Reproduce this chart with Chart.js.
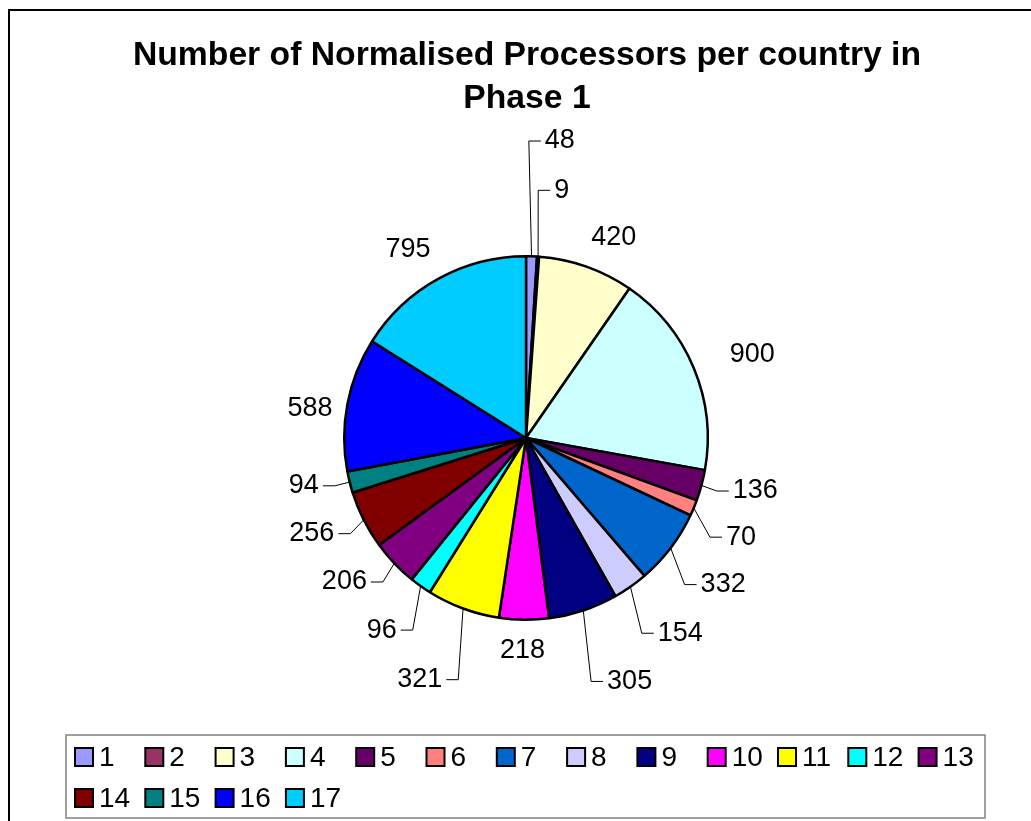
<!DOCTYPE html>
<html>
<head>
<meta charset="utf-8">
<script src="https://cdn.jsdelivr.net/npm/chart.js@4.4.1/dist/chart.umd.min.js"></script>
<style>
  body { margin: 0; background: #fff; }
  canvas { display: block; }
</style>
</head>
<body>
<canvas id="pieChart" width="1031" height="821"></canvas>
<script>
// Country numbers and their processor counts (clockwise from the top)
const countries = ["1", "2", "3", "4", "5", "6", "7", "8", "9", "10", "11", "12", "13", "14", "15", "16", "17"];
const processors = [48, 9, 420, 900, 136, 70, 332, 154, 305, 218, 321, 96, 206, 256, 94, 588, 795];
const sliceColours = ["#9999FF", "#993366", "#FFFFCC", "#CCFFFF", "#660066", "#FF8080", "#0066CC", "#CCCCFF",
    "#000080", "#FF00FF", "#FFFF00", "#00FFFF", "#800080", "#800000", "#008080", "#0000FF", "#00CCFF"];
const titleLines = ["Number of Normalised Processors per country in", "Phase 1"];

const FONT = "'Liberation Sans', Arial, sans-serif";

// label placement: distance from centre, angle nudge (deg), leader line or not
const labelDist = [297, 248, 219, 241, 198, 209, 216, 227, 252, 213, 251, 223, 203, 200, 197, 218, 222];
const labelNudge = [-1.2, -1.0, 4.2, 2.4, 0.4, 5.7, 5.5, 4.4, 3.4, 0.3, -4.6, -4.9, -1.6, -1.8, 0, -2.9, -3.2];
const hasLeader = [1, 1, 0, 0, 1, 1, 1, 1, 1, 0, 1, 1, 1, 1, 1, 0, 0];

const framePlugin = {
    id: "frame",
    beforeDraw(chart) {
        const ctx = chart.ctx;
        ctx.save();
        ctx.fillStyle = "#fff";
        ctx.fillRect(0, 0, chart.width, chart.height);
        ctx.strokeStyle = "#000";
        ctx.lineWidth = 2;
        ctx.strokeRect(9, 10, chart.width + 50, chart.height + 50);
        // title (drawn here so it is not squeezed to the pie width)
        ctx.fillStyle = "#000";
        ctx.font = "bold 33.7px " + FONT;
        ctx.textAlign = "center";
        ctx.textBaseline = "middle";
        titleLines.forEach((t, i) => ctx.fillText(t, 527, 56 + i * 43));
        ctx.restore();
    }
};

const labelPlugin = {
    id: "sliceLabels",
    afterDatasetsDraw(chart) {
        const ctx = chart.ctx;
        const meta = chart.getDatasetMeta(0);
        ctx.save();
        ctx.font = "27px " + FONT;
        ctx.fillStyle = "#000";
        ctx.strokeStyle = "#000";
        ctx.lineWidth = 1;
        ctx.textBaseline = "middle";
        meta.data.forEach((arc, i) => {
            const p = arc.getProps(["x", "y", "startAngle", "endAngle", "outerRadius"], true);
            const mid = (p.startAngle + p.endAngle) / 2;
            const a = mid + labelNudge[i] * Math.PI / 180;
            const ex = p.x + labelDist[i] * Math.cos(a);
            const ey = p.y + labelDist[i] * Math.sin(a);
            const text = String(chart.data.datasets[0].data[i]);
            if (hasLeader[i]) {
                const right = ex >= p.x;
                const sx = p.x + p.outerRadius * Math.cos(mid);
                const sy = p.y + p.outerRadius * Math.sin(mid);
                const tx = right ? ex + 12 : ex - 12;
                ctx.beginPath();
                ctx.moveTo(sx, sy);
                ctx.lineTo(ex, ey);
                ctx.lineTo(tx, ey);
                ctx.stroke();
                ctx.textAlign = right ? "left" : "right";
                ctx.fillText(text, right ? tx + 4 : tx - 4, ey);
            } else {
                ctx.textAlign = "center";
                ctx.fillText(text, ex, ey);
            }
        });
        ctx.restore();
    }
};

// Excel style legend: fixed width columns inside a grey box
const legendPlugin = {
    id: "boxLegend",
    afterDraw(chart) {
        const ctx = chart.ctx;
        const colours = chart.data.datasets[0].backgroundColor;
        ctx.save();
        ctx.strokeStyle = "#808080";
        ctx.lineWidth = 1.5;
        ctx.strokeRect(66, 735, 919, 83);
        ctx.font = "28px " + FONT;
        ctx.textBaseline = "middle";
        ctx.textAlign = "left";
        chart.data.labels.forEach((lab, i) => {
            const col = i % 13;
            const row = Math.floor(i / 13);
            const bx = 75 + col * 70.3;
            const cy = 757 + row * 41;
            ctx.fillStyle = colours[i];
            ctx.fillRect(bx, cy - 9, 18, 18);
            ctx.strokeStyle = "#000";
            ctx.lineWidth = 2;
            ctx.strokeRect(bx, cy - 9, 18, 18);
            ctx.fillStyle = "#000";
            ctx.fillText(lab, bx + 24, cy + 1);
        });
        ctx.restore();
    }
};

const ctx = document.getElementById("pieChart").getContext("2d");
new Chart(ctx, {
    type: "pie",
    data: {
        labels: countries,
        datasets: [{
            data: processors,
            backgroundColor: sliceColours,
            borderColor: "#000",
            borderWidth: 2.5
        }]
    },
    options: {
        responsive: false,
        animation: false,
        devicePixelRatio: 1,
        layout: {
            padding: { left: 343, right: 322, top: 255, bottom: 200 }
        },
        plugins: {
            legend: { display: false },
            tooltip: { enabled: false },
            title: { display: false }
        }
    },
    plugins: [framePlugin, labelPlugin, legendPlugin]
});
</script>
</body>
</html>
